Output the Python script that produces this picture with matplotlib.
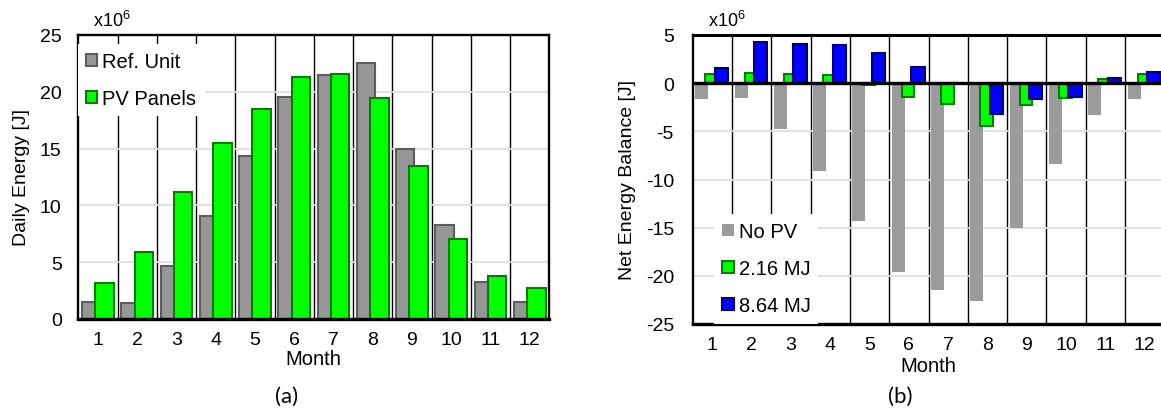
import matplotlib

matplotlib.use("Agg")

import matplotlib.pyplot as plt
import numpy as np

plt.rcParams["font.family"] = ["Liberation Sans", "DejaVu Sans"]
plt.rcParams["mathtext.default"] = "regular"

months = [str(m) for m in range(1, 13)]

# (a) daily energy, x10^6 J
ref_unit = [1.5, 1.4, 4.7, 9.05, 14.35, 19.55, 21.45, 22.55, 14.95, 8.3, 3.3, 1.5]
pv_panels = [3.2, 5.9, 11.2, 15.45, 18.45, 21.3, 21.55, 19.45, 13.45, 7.0, 3.8, 2.7]

# (b) net energy balance, x10^6 J
no_pv = [-1.6, -1.5, -4.8, -9.1, -14.35, -19.6, -21.5, -22.6, -15.0, -8.4, -3.3, -1.6]
pv_216 = [0.95, 1.05, 0.95, 0.85, -0.22, -1.4, -2.15, -4.4, -2.3, -1.5, 0.4, 0.9]
pv_864 = [1.6, 4.25, 4.1, 4.0, 3.1, 1.7, 0.0, -3.2, -1.6, -1.45, 0.55, 1.15]

GRAY = "#969696"
GRAY_EDGE = "#5c5c5c"
GREEN = "#00ff00"
GREEN_EDGE = "#0b7a0b"
BLUE = "#0000ff"
BLUE_EDGE = "#00007a"

W, H = 1161, 414
fig = plt.figure(figsize=(W / 100, H / 100), dpi=100)
fig.patch.set_facecolor("white")

ax1 = fig.add_axes([78.3 / W, 1 - 320 / H, 471 / W, 284 / H])
ax2 = fig.add_axes([692.7 / W, 1 - 325 / H, 471.6 / W, 289 / H])

x = np.arange(1, 13)
bounds = np.arange(1.5, 12.5, 1.0)


def style_axes(ax, ylim, yticks, ypad):
    ax.set_xlim(0.5, 12.5)
    ax.set_ylim(*ylim)
    ax.set_yticks(yticks)
    ax.set_yticklabels([str(t) for t in yticks])
    ax.set_xticks(x)
    ax.set_xticklabels(months)
    ax.set_xticks(bounds, minor=True)
    ax.tick_params(axis="both", which="both", length=0)
    ax.tick_params(axis="y", pad=ypad, labelsize=14)
    ax.tick_params(axis="x", pad=9, labelsize=14)
    ax.set_axisbelow(True)
    ax.grid(axis="y", which="major", color="#dedede", lw=1.3)
    ax.grid(axis="x", which="minor", color="black", lw=1.0)
    for s in ax.spines.values():
        s.set_color("black")
        s.set_linewidth(1.7)
    ax.spines["bottom"].set_linewidth(2.4)


# ---- (a)
ax1.bar(x - 0.17, ref_unit, width=0.47, color=GRAY, edgecolor=GRAY_EDGE,
        linewidth=1.5, label="Ref. Unit", zorder=2)
ax1.bar(x + 0.17, pv_panels, width=0.47, color=GREEN, edgecolor=GREEN_EDGE,
        linewidth=1.5, label="PV Panels", zorder=2)
style_axes(ax1, (0, 25), [0, 5, 10, 15, 20, 25], 12)
ax1.set_ylabel("Daily Energy [J]", fontsize=14, va="center")
ax1.yaxis.set_label_coords((21 - 78.3) / 471, 0.5)
ax1.set_xlabel("Month", fontsize=14.5, va="center")
ax1.xaxis.set_label_coords(0.5, (320 - 360) / 284)
leg1 = ax1.legend(loc="upper left", bbox_to_anchor=(0.0, 0.968), borderaxespad=0,
                  fontsize=14.5, frameon=True, fancybox=False, edgecolor="none",
                  framealpha=1, handlelength=0.55, handleheight=0.55,
                  handletextpad=0.25, labelspacing=0.9, borderpad=0.4)

# ---- (b)
ax2.bar(x - 0.27, no_pv, width=0.33, color="#9b9b9b", edgecolor="none",
        label="No PV", zorder=2)
ax2.bar(x - 0.02, pv_216, width=0.32, color=GREEN, edgecolor=GREEN_EDGE,
        linewidth=1.5, label="2.16 MJ", zorder=2)
ax2.bar(x + 0.23, pv_864, width=0.34, color=BLUE, edgecolor=BLUE_EDGE,
        linewidth=1.5, label="8.64 MJ", zorder=2)
ax2.axhline(0, color="black", lw=2.4, zorder=3)
style_axes(ax2, (-25, 5), [5, 0, -5, -10, -15, -20, -25], 13.5)
ax2.spines["top"].set_linewidth(2.2)
ax2.set_ylabel("Net Energy Balance [J]", fontsize=14, va="center")
ax2.yaxis.set_label_coords((627 - 692.7) / 471.6, 0.5)
ax2.set_xlabel("Month", fontsize=14.5, va="center")
ax2.xaxis.set_label_coords(0.5, (325 - 366) / 289)
leg2 = ax2.legend(loc="upper left", bbox_to_anchor=(0.046, 0.38), borderaxespad=0,
                  fontsize=14.5, frameon=True, fancybox=False, edgecolor="none",
                  framealpha=1, handlelength=0.55, handleheight=0.55,
                  handletextpad=0.25, labelspacing=0.9, borderpad=0.4)

# multipliers and panel tags
fig.text(93 / W, 1 - 21 / H, r"x10$^{6}$", fontsize=13, va="center", ha="left")
fig.text(708 / W, 1 - 21 / H, r"x10$^{6}$", fontsize=13, va="center", ha="left")
fig.text(287 / W, 1 - 397 / H, "(a)", fontsize=16, ha="center", va="center",
         family=["Lato", "DejaVu Sans"])
fig.text(900 / W, 1 - 397 / H, "(b)", fontsize=16, ha="center", va="center",
         family=["Lato", "DejaVu Sans"])

fig.savefig("out.png", dpi=100, facecolor="white")
